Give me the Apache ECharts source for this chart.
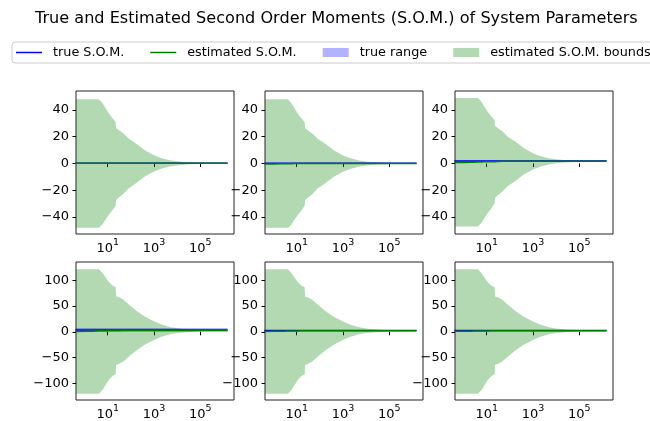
<!DOCTYPE html>
<html>
<head>
<meta charset="utf-8">
<script src="https://cdn.jsdelivr.net/npm/echarts@6/dist/echarts.min.js"></script>
<style>
  html, body { margin: 0; padding: 0; background: #fff; }
  #chart { width: 650px; height: 421px; }
</style>
</head>
<body>
<div id="chart"></div>
<script>
// Iteration counts at which the moments are sampled (log-spaced x axis)
const steps = [0.4, 1, 2, 3, 4, 4.5, 6, 8, 11, 16, 22, 23, 30, 47, 80, 178, 400, 1000, 2000, 4900, 10000, 26000, 100000, 400000, 1500000];

// Estimated S.O.M. bounds, one array per panel (upper / lower)
const upper1 = [48, 48, 48, 48, 48, 47.5, 45, 41.5, 37.5, 34, 31, 26.5, 25, 22.6, 18.6, 14.6, 10, 6.1, 4.2, 2.4, 1.6, 0.9, 0.5, 0.35, 0.3];
const lower1 = [-48, -48, -48, -48, -48, -47.5, -45.5, -42, -38.5, -35, -31.5, -27.3, -25.5, -22.8, -18.6, -14.4, -9.8, -6, -4, -2.3, -1.4, -0.7, -0.3, -0.2, -0.15];
const upper2 = [48, 48, 48, 48, 48, 47.4, 44.9, 41.4, 37.4, 33.9, 30.9, 26.4, 24.9, 22.5, 18.5, 14.5, 9.9, 6.0, 4.1, 2.3, 1.5, 0.8, 0.4, 0.3, 0.2];
const lower2 = [-48, -48, -48, -48, -48, -47.6, -45.6, -42.1, -38.6, -35.1, -31.6, -27.4, -25.6, -22.9, -18.7, -14.5, -9.9, -6.1, -4.1, -2.4, -1.5, -0.8, -0.4, -0.3, -0.2];
const upper3 = [49, 49, 49, 49, 49, 48.5, 46, 42.5, 38.7, 35.3, 32.3, 28, 26.6, 24.2, 20.2, 16.2, 11.6, 7.6, 5.7, 3.9, 3.1, 2.5, 2.1, 1.9, 1.8];
const lower3 = [-47, -47, -47, -47, -47, -46.5, -44.3, -40.7, -37, -33.5, -29.8, -25.6, -23.8, -21.2, -17, -12.8, -8.2, -4.4, -2.5, -0.7, 0.1, 0.8, 1.2, 1.4, 1.5];
const upper4 = [121.5, 121.5, 121.5, 121.5, 121.5, 120, 114, 106, 97, 90, 87, 69, 67.5, 62.5, 53.5, 40.5, 29.5, 20.5, 14.5, 9.5, 6.7, 4.8, 3.6, 3.1, 2.9];
const lower4 = [-120.5, -120.5, -120.5, -120.5, -120.5, -119, -113, -104, -94, -86, -83, -64.5, -62.5, -57.5, -48.5, -36, -25, -16, -10, -5, -2.5, -0.8, 1.2, 2.0, 2.4];
const upper5 = [121.5, 121.5, 121.5, 121.5, 121.5, 120, 113.5, 105.5, 96.5, 89.5, 86.5, 68.5, 67, 62, 53, 40, 29, 20, 14, 9, 6.2, 4.3, 3.1, 2.6, 2.4];
const lower5 = [-120.5, -120.5, -120.5, -120.5, -120.5, -119, -113, -104, -94, -86, -83, -64.5, -62.5, -57.5, -48.5, -36, -25, -16, -10, -5, -2.6, -0.9, 0.9, 1.5, 1.8];
const upper6 = [121.5, 121.5, 121.5, 121.5, 121.5, 120, 113.5, 105.5, 96.5, 89.5, 86.5, 68.5, 67, 62, 53, 40, 29, 20, 14, 9, 6.4, 4.5, 3.3, 2.8, 2.6];
const lower6 = [-120.5, -120.5, -120.5, -120.5, -120.5, -119, -113, -104, -94, -86, -83, -64.5, -62.5, -57.5, -48.5, -36, -25, -16, -10, -5, -2.4, -0.7, 1.1, 1.7, 2.0];

// Estimated S.O.M. per panel
const est1 = [0.2, 0.2, 0.2, 0.1, 0.1, 0.1, 0.1, 0.1, 0.1, 0.1, 0.1, 0.1, 0.1, 0.1, 0.1, 0.1, 0.1, 0.1, 0.1, 0.1, 0.1, 0.1, 0.1, 0.1, 0.1];
const est2 = [-0.3, -0.3, -0.2, -0.2, -0.1, -0.1, -0.1, 0, 0, 0, 0, 0, 0, 0, 0, 0, 0, 0, 0, 0, 0, 0, 0, 0, 0];
const est3 = [0.7, 0.8, 0.9, 1.0, 1.1, 1.1, 1.2, 1.3, 1.3, 1.4, 1.4, 1.5, 1.5, 1.6, 1.6, 1.6, 1.6, 1.6, 1.6, 1.6, 1.6, 1.6, 1.6, 1.6, 1.6];
const est4 = [0.6, 0.9, 1.2, 1.5, 1.8, 1.9, 2.0, 2.2, 2.3, 2.5, 2.6, 2.7, 2.7, 2.8, 2.8, 2.8, 2.8, 2.8, 2.8, 2.8, 2.8, 2.8, 2.8, 2.8, 2.8];
const est5 = [0.6, 0.8, 1.0, 1.2, 1.4, 1.4, 1.5, 1.6, 1.7, 1.8, 1.9, 2.0, 2.0, 2.0, 2.0, 2.0, 2.0, 2.0, 2.0, 2.0, 2.0, 2.0, 2.0, 2.0, 2.0];
const est6 = [0.8, 1.0, 1.2, 1.4, 1.5, 1.5, 1.6, 1.7, 1.7, 1.8, 1.9, 2.0, 2.0, 2.1, 2.1, 2.2, 2.2, 2.2, 2.2, 2.2, 2.2, 2.2, 2.2, 2.2, 2.2];

// True S.O.M. (constant per panel) and its admissible range
const trueSom = [0.2, 0.1, 1.9, 3.2, 2.3, 2.6];
const trueLow = [-0.2, -0.3, 1.3, -0.5, 1.6, 1.9];
const trueHigh = [0.6, 0.5, 2.5, 7.5, 3.0, 3.3];

// Axis ticks
const xTicks = [10, 1000, 100000];
const xTickExp = ['1', '3', '5'];
const yTicksTop = [-40, -20, 0, 20, 40];
const yTicksBottom = [-100, -50, 0, 50, 100];

const uppers = [upper1, upper2, upper3, upper4, upper5, upper6];
const lowers = [lower1, lower2, lower3, lower4, lower5, lower6];
const ests = [est1, est2, est3, est4, est5, est6];

const FONT = 'DejaVu Sans';
const colLeft = [76, 265, 455];
const rowTop = [91, 262];
const rowHeight = [143, 141];
const yRange = [[-52.7, 54.2], [-132.5, 135.5]];

const grids = [], xAxes = [], yAxes = [], series = [];
for (let i = 0; i < 6; i++) {
  const r = Math.floor(i / 3), c = i % 3;
  grids.push({
    left: colLeft[c], top: rowTop[r], width: 158, height: rowHeight[r],
    show: true, borderColor: '#222', borderWidth: 1, backgroundColor: 'transparent'
  });
  xAxes.push({
    type: 'log', logBase: 10, gridIndex: i, min: 0.427, max: 2.86e6,
    axisLine: { show: false },
    splitLine: { show: false },
    minorTick: { show: false },
    axisTick: { show: true, length: 3.5, lineStyle: { color: '#000', width: 1 }, customValues: xTicks },
    axisLabel: {
      customValues: xTicks, margin: 4, color: '#000', fontFamily: FONT,
      formatter: function (v) {
        const k = xTicks.indexOf(v);
        return '{b|10}{s|' + (k >= 0 ? xTickExp[k] : '') + '}';
      },
      rich: {
        b: { fontSize: 13, fontFamily: FONT, color: '#000', lineHeight: 17, verticalAlign: 'bottom' },
        s: { fontSize: 9.5, fontFamily: FONT, color: '#000', lineHeight: 11, verticalAlign: 'top' }
      }
    }
  });
  const yt = r === 0 ? yTicksTop : yTicksBottom;
  yAxes.push({
    type: 'value', gridIndex: i, min: yRange[r][0], max: yRange[r][1],
    axisLine: { show: false },
    splitLine: { show: false },
    axisTick: { show: true, length: 3.5, lineStyle: { color: '#000', width: 1 }, customValues: yt },
    axisLabel: {
      customValues: yt, margin: 7, color: '#000', fontSize: 13, fontFamily: FONT,
      formatter: v => String(v).replace('-', '\u2212')
    }
  });
}

// A filled band between two curves, projected through the panel's axes
function bandSeries(name, i, xs, hi, lo, fill, z) {
  return {
    type: 'custom', name: name, xAxisIndex: i, yAxisIndex: i, silent: true, z: z,
    color: fill,
    data: [[xs[0], lo[0]]],
    encode: { x: 0, y: 1 },
    renderItem: function (params, api) {
      const pts = [];
      for (let k = 0; k < xs.length; k++) pts.push(api.coord([xs[k], hi[k]]));
      for (let k = xs.length - 1; k >= 0; k--) pts.push(api.coord([xs[k], lo[k]]));
      const cs = params.coordSys;
      return {
        type: 'polygon',
        shape: { points: pts },
        style: { fill: fill, stroke: null },
        clipPath: { type: 'rect', shape: { x: cs.x, y: cs.y, width: cs.width, height: cs.height } }
      };
    }
  };
}

for (let i = 0; i < 6; i++) {
  series.push(bandSeries('estimated S.O.M. bounds', i, steps, uppers[i], lowers[i], 'rgba(0,128,0,0.3)', 1));
}
for (let i = 0; i < 6; i++) {
  series.push(bandSeries('true range', i, steps,
    steps.map(() => trueHigh[i]), steps.map(() => trueLow[i]), 'rgba(0,0,255,0.3)', 2));
}
// True S.O.M. lines
for (let i = 0; i < 6; i++) {
  series.push({
    type: 'line', name: 'true S.O.M.', xAxisIndex: i, yAxisIndex: i,
    symbol: 'none', silent: true, color: '#0000ff',
    lineStyle: { width: 1.5, color: '#0000ff' }, emphasis: { disabled: true },
    data: steps.map(x => [x, trueSom[i]]), z: 3
  });
}
// Estimated S.O.M. lines
for (let i = 0; i < 6; i++) {
  series.push({
    type: 'line', name: 'estimated S.O.M.', xAxisIndex: i, yAxisIndex: i,
    symbol: 'none', silent: true, color: '#008000',
    lineStyle: { width: 1.5, color: '#008000' }, emphasis: { disabled: true },
    data: steps.map((x, k) => [x, ests[i][k]]), z: 4
  });
}

const LINE_ICON = 'path://M0,0H26V1.5H0Z';
const chart = echarts.init(document.getElementById('chart'), null, { renderer: 'canvas' });
chart.setOption({
  animation: false,
  backgroundColor: '#fff',
  title: {
    text: 'True and Estimated Second Order Moments (S.O.M.) of System Parameters',
    left: 35, top: 11, padding: 0,
    textStyle: { fontFamily: FONT, fontSize: 16.1, fontWeight: 'normal', color: '#000' }
  },
  legend: {
    left: 12, top: 42, width: 700, padding: [4, 6, 4, 4],
    itemWidth: 26, itemHeight: 9, itemGap: 26,
    borderColor: '#cccccc', borderWidth: 1, borderRadius: 3, backgroundColor: '#fff',
    selectedMode: false,
    textStyle: { fontFamily: FONT, fontSize: 12.8, color: '#000', padding: [0, 0, 0, 6] },
    data: [
      { name: 'true S.O.M.', icon: LINE_ICON, itemStyle: { color: '#0000ff' } },
      { name: 'estimated S.O.M.', icon: LINE_ICON, itemStyle: { color: '#008000' } },
      { name: 'true range', icon: 'rect', itemStyle: { color: 'rgba(0,0,255,0.3)' } },
      { name: 'estimated S.O.M. bounds', icon: 'rect', itemStyle: { color: 'rgba(0,128,0,0.3)' } }
    ]
  },
  grid: grids,
  xAxis: xAxes,
  yAxis: yAxes,
  series: series
});
</script>
</body>
</html>
